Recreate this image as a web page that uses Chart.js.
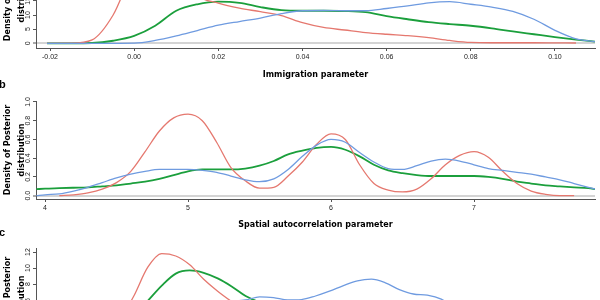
<!DOCTYPE html>
<html>
<head>
<meta charset="utf-8">
<script src="https://cdn.jsdelivr.net/npm/chart.js@4.4.1/dist/chart.umd.min.js"></script>
<style>
  html, body { margin: 0; padding: 0; background: #fff; }
  #wrap { position: relative; width: 600px; height: 300px; overflow: hidden; }
  #wrap canvas { position: absolute; left: 0; }
  .tag { position: absolute; left: -1px; font: bold 11px "Liberation Sans", Arial, sans-serif; color: #000; }
</style>
</head>
<body>
<div id="wrap">
  <canvas id="panelA" width="600" height="150" style="top:-60px"></canvas>
  <canvas id="panelB" width="600" height="150" style="top:90px"></canvas>
  <canvas id="panelC" width="600" height="150" style="top:240px"></canvas>
  <div class="tag" style="top:78px">b</div>
  <div class="tag" style="top:226px">c</div>
</div>
<script>
// panel a - immigration parameter
var xA = [-0.0207, -0.015, -0.01, -0.005, 0, 0.005, 0.01, 0.015, 0.02, 0.025, 0.03, 0.035, 0.04, 0.045,
  0.05, 0.055, 0.06, 0.065, 0.07, 0.075, 0.08, 0.085, 0.09, 0.095, 0.1, 0.105, 0.1095];
var redA = [0, 0.05, 1.2, 10.0, 26, 31, 27, 17, 14.2, 12.4, 11.2, 9.8, 7.3, 5.6,
  4.7, 3.8, 3.2, 2.7, 2.0, 1.0, 0.3, 0.2, 0.2, 0.2, 0.15, 0.1, null];
var greenA = [0, 0, 0.1, 0.9, 2.6, 6.2, 11.5, 13.8, 14.7, 14.3, 12.8, 11.7, 11.5, 11.5,
  11.4, 11.0, 9.6, 8.5, 7.5, 6.8, 6.2, 5.3, 4.2, 3.2, 2.2, 1.3, 0.6];
var blueA = [0, 0, 0, 0, 0.05, 1.0, 2.6, 4.5, 6.4, 7.7, 8.9, 10.5, 11.5, 11.6,
  11.5, 11.5, 12.3, 13.2, 14.3, 14.7, 13.8, 12.8, 11.3, 8.5, 4.6, 1.6, 0.6];
var xTicksA = [-0.02, 0, 0.02, 0.04, 0.06, 0.08, 0.1];
var yTicksA = [0, 5, 10, 15, 20, 25, 30];

// panel b - spatial autocorrelation parameter
var xB = [3.94, 4.0, 4.1, 4.2, 4.3, 4.4, 4.5, 4.6, 4.7, 4.8, 4.9, 5.0, 5.1, 5.2, 5.3, 5.4, 5.5, 5.6, 5.7, 5.8,
  5.9, 6.0, 6.1, 6.2, 6.3, 6.4, 6.5, 6.6, 6.7, 6.8, 6.9, 7.0, 7.1, 7.2, 7.3, 7.4, 7.5, 7.6, 7.7, 7.8, 7.85];
var redB = [null, null, 0, 0.01, 0.03, 0.07, 0.14, 0.26, 0.47, 0.69, 0.83, 0.87, 0.8, 0.57, 0.3, 0.16, 0.08, 0.09, 0.21, 0.36,
  0.55, 0.66, 0.6, 0.33, 0.13, 0.06, 0.04, 0.07, 0.18, 0.33, 0.43, 0.47, 0.41, 0.26, 0.13, 0.05, 0.015, 0, 0, null, null];
var blueB = [0, 0.01, 0.02, 0.05, 0.09, 0.14, 0.19, 0.23, 0.26, 0.28, 0.28, 0.28, 0.27, 0.25, 0.21, 0.17, 0.15, 0.18, 0.28, 0.42,
  0.54, 0.6, 0.57, 0.46, 0.36, 0.29, 0.28, 0.32, 0.37, 0.39, 0.37, 0.33, 0.29, 0.27, 0.25, 0.23, 0.2, 0.17, 0.13, 0.09, 0.07];
var greenB = [0.07, 0.075, 0.08, 0.085, 0.09, 0.1, 0.11, 0.13, 0.15, 0.18, 0.22, 0.26, 0.28, 0.28, 0.28, 0.29, 0.32, 0.37, 0.44, 0.48,
  0.51, 0.52, 0.49, 0.42, 0.33, 0.27, 0.24, 0.22, 0.21, 0.21, 0.21, 0.21, 0.2, 0.18, 0.15, 0.13, 0.11, 0.1, 0.09, 0.08, 0.07];
var xTicksB = [4, 5, 6, 7];
var yTicksB = [0, 0.2, 0.4, 0.6, 0.8, 1];

// panel c - only the top of it is in frame
var xC = [0, 0.025, 0.05, 0.075, 0.1, 0.125, 0.15, 0.175, 0.2, 0.225, 0.25, 0.275, 0.3, 0.325, 0.35, 0.375, 0.4, 0.425, 0.45, 0.475,
  0.5, 0.525, 0.55, 0.575, 0.6, 0.625, 0.65, 0.675, 0.7, 0.725, 0.75, 0.775, 0.8, 0.825, 0.85, 0.875, 0.9, 0.925, 0.95, 0.975, 1];
var redC = [0, 0, 0.05, 0.15, 0.5, 1.5, 3.5, 6.5, 10.1, 11.8, 11.5, 10.4, 8.6, 7.1, 5.8, 4.6, 3.7, 3.0, 2.6, 2.4,
  2.3, 2.2, 2.0, 1.8, 1.5, 1.2, 1.0, 0.8, 0.6, 0.4, 0.3, 0.2, 0.1, 0.05, 0, 0, 0, null, null, null, null];
var greenC = [0, 0, 0, 0.05, 0.2, 0.8, 2.2, 4.0, 5.9, 7.8, 9.3, 9.7, 9.4, 8.7, 7.7, 6.5, 5.7, 5.0, 4.5, 4.1,
  3.8, 3.5, 3.2, 2.9, 2.6, 2.3, 2.0, 1.7, 1.4, 1.1, 0.9, 0.7, 0.5, 0.4, 0.3, 0.2, 0.15, 0.1, 0.08, 0.05, 0.03];
var blueC = [0.2, 0.4, 0.7, 1.0, 1.4, 1.9, 2.4, 3.0, 3.6, 4.2, 4.8, 5.2, 5.5, 5.7, 5.85, 6.0, 6.4, 6.3, 6.0, 6.05,
  6.5, 7.1, 7.8, 8.4, 8.6, 8.15, 7.3, 6.75, 6.6, 6.1, 5.0, 3.9, 3.0, 2.2, 1.6, 1.1, 0.8, 0.5, 0.35, 0.2, 0.1];
var xTicksC = [0, 0.2, 0.4, 0.6, 0.8, 1];
var yTicksC = [0, 2, 4, 6, 8, 10, 12];

var RED = '#e5786f', BLUE = '#6f9be0', GREEN = '#1b9f3c';
var AXIS = '#555';
var tickFont = { family: 'Liberation Sans', size: 7 };
var titleFont = { family: 'DejaVu Sans', weight: 'bold', size: 8 };

function pts(xs, ys) {
  return xs.map(function (x, i) { return { x: x, y: ys[i] }; });
}

function line(xs, ys, color, w) {
  return {
    data: pts(xs, ys), borderColor: color, borderWidth: w, pointRadius: 0,
    fill: false, cubicInterpolationMode: 'monotone', spanGaps: false
  };
}

// R style: y tick labels turned 90 degrees, centred on the tick, just left of the axis
var rotatedYLabels = {
  id: 'rotatedYLabels',
  afterDraw: function (chart) {
    var s = chart.scales.y, ctx = chart.ctx;
    ctx.save();
    ctx.fillStyle = '#222';
    ctx.font = '7px "Liberation Sans"';
    ctx.textAlign = 'center';
    ctx.textBaseline = 'middle';
    s.ticks.forEach(function (t) {
      var y = s.getPixelForValue(t.value);
      ctx.save();
      ctx.translate(s.right - 8, y);
      ctx.rotate(-Math.PI / 2);
      ctx.fillText(t.label, 0, 0);
      ctx.restore();
    });
    ctx.restore();
  }
};

function panel(id, p) {
  return new Chart(document.getElementById(id), {
    type: 'line',
    data: {
      datasets: [
        line(p.xs, p.blue, BLUE, 1.3),
        line(p.xs, p.red, RED, 1.3),
        line(p.xs, p.green, GREEN, 1.8)
      ]
    },
    plugins: [rotatedYLabels],
    options: {
      responsive: false,
      devicePixelRatio: 1,
      animation: false,
      layout: { padding: { left: 0, right: 5, top: p.top, bottom: 0 } },
      plugins: { legend: { display: false }, tooltip: { enabled: false } },
      scales: {
        x: {
          type: 'linear', min: p.xMin, max: p.xMax,
          afterBuildTicks: function (s) { s.ticks = p.xTicks.map(function (v) { return { value: v }; }); },
          afterFit: function (s) { s.height = p.xH; s.paddingLeft = 0; s.paddingRight = 0; },
          ticks: { autoSkip: false, maxRotation: 0, padding: 2, color: '#222', font: tickFont, callback: p.xFmt },
          grid: { drawOnChartArea: false, tickLength: 3, tickColor: AXIS },
          border: { display: true, color: AXIS, width: 1 },
          title: { display: !!p.xTitle, text: p.xTitle, color: '#000', font: titleFont, padding: { top: 0, bottom: 10 } }
        },
        y: {
          type: 'linear', min: p.yMin, max: p.yMax,
          afterBuildTicks: function (s) { s.ticks = p.yTicks.map(function (v) { return { value: v }; }); },
          afterFit: function (s) { s.width = 36; s.paddingTop = 0; s.paddingBottom = 0; },
          ticks: { display: false, callback: p.yFmt },
          grid: {
            color: function (c) { return c.tick && c.tick.value === 0 ? '#d4d4d4' : 'rgba(0,0,0,0)'; },
            lineWidth: function (c) { return c.tick && c.tick.value === 0 ? 2 : 1; },
            tickColor: AXIS, tickLength: 3, tickWidth: 1
          },
          border: { display: true, color: AXIS, width: 1 },
          title: {
            display: true, text: ['Density of Posterior', 'distribution'], color: '#000',
            font: { family: 'DejaVu Sans', weight: 'bold', size: 8, lineHeight: 1.75 }, padding: { top: 1, bottom: 0 }
          }
        }
      }
    }
  });
}

panel('panelA', {
  xs: xA, red: redA, green: greenA, blue: blueA,
  xMin: -0.02333, xMax: 0.10952, xTicks: xTicksA, xFmt: function (v) { return v.toFixed(2); },
  yMin: -1.66, yMax: 35.1, yTicks: yTicksA, yFmt: function (v) { return String(v); },
  top: 4, xH: 42, xTitle: 'Immigration parameter'
});

panel('panelB', {
  xs: xB, red: redB, green: greenB, blue: blueB,
  xMin: 3.937, xMax: 7.846, xTicks: xTicksB, xFmt: function (v) { return String(v); },
  yMin: -0.035, yMax: 1.01, yTicks: yTicksB, yFmt: function (v) { return v.toFixed(1); },
  top: 11, xH: 41, xTitle: 'Spatial autocorrelation parameter'
});

panel('panelC', {
  xs: xC, red: redC, green: greenC, blue: blueC,
  xMin: 0, xMax: 1, xTicks: xTicksC, xFmt: function (v) { return v.toFixed(1); },
  yMin: -1, yMax: 12.5, yTicks: yTicksC, yFmt: function (v) { return String(v); },
  top: 8, xH: 34, xTitle: ''
});
</script>
</body>
</html>
